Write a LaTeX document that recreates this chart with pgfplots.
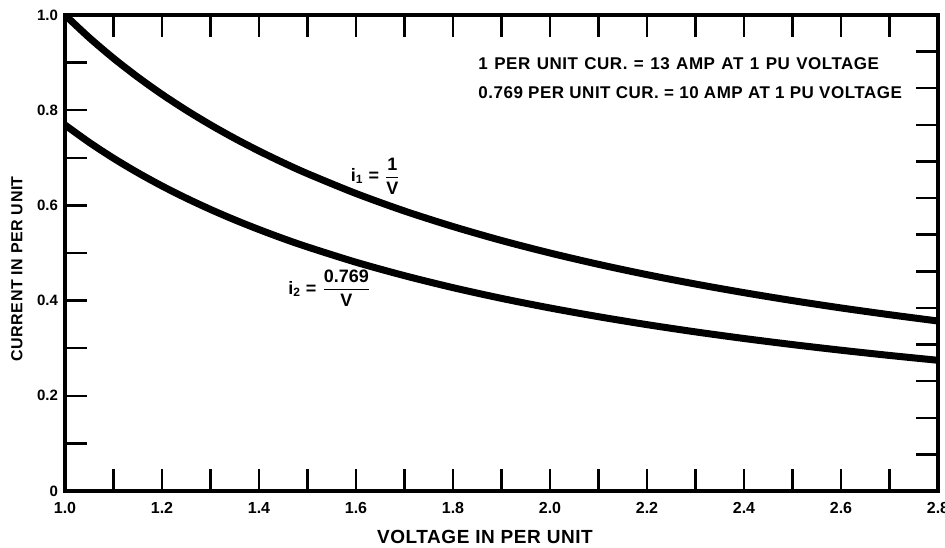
\documentclass[border=0pt]{standalone}
\usepackage{fontspec}
\setmainfont{Liberation Sans}
\newfontfamily\lettering[LetterSpace=3]{Liberation Sans}
\usepackage{pgfplots}
\pgfplotsset{compat=1.18}
\begin{document}
\begin{tikzpicture}
\begin{axis}[
  at={(0,0)}, anchor=south west,
  scale only axis, width=436.5pt, height=238pt,
  xmin=1, xmax=2.8, ymin=0, ymax=1,
  axis line style={line width=2pt},
  xtick={1,1.2,1.4,1.6,1.8,2,2.2,2.4,2.6,2.8},
  xticklabels={1.0,1.2,1.4,1.6,1.8,2.0,2.2,2.4,2.6,2.8},
  minor xtick={1.1,1.3,1.5,1.7,1.9,2.1,2.3,2.5,2.7},
  ytick={0,0.2,0.4,0.6,0.8,1},
  yticklabels={0,0.2,0.4,0.6,0.8,1.0},
  minor ytick={0.1,0.3,0.5,0.7,0.9},
  ytick pos=left, xtick pos=both,
  tick align=inside, major tick length=11pt, minor tick length=11pt,
  every tick/.style={black, line width=1.2pt},
  x tick label style={font=\bfseries\fontsize{8}{9}\selectfont, yshift=-2pt},
  y tick label style={font=\bfseries\fontsize{7.5}{9}\selectfont},
  /pgf/number format/assume math mode=true,
  xlabel={VOLTAGE IN PER UNIT},
  every axis x label/.style={at={(axis description cs:0.481,-0.0966)}, anchor=center, font=\lettering\bfseries\fontsize{9.5}{11}\selectfont},
  ylabel={CURRENT IN PER UNIT},
  every axis y label/.style={at={(axis description cs:-0.055,0.467)}, anchor=center, rotate=90, font=\lettering\bfseries\fontsize{8}{10}\selectfont},
]
\addplot[black, line width=3.5pt, smooth] coordinates {
(1.00,1.0000) (1.05,0.9524) (1.10,0.9091) (1.15,0.8696) (1.20,0.8333)
(1.25,0.8000) (1.30,0.7692) (1.35,0.7407) (1.40,0.7143) (1.45,0.6897)
(1.50,0.6667) (1.60,0.6250) (1.70,0.5882) (1.80,0.5556) (1.90,0.5263)
(2.00,0.5000) (2.10,0.4762) (2.20,0.4545) (2.30,0.4348) (2.40,0.4167)
(2.50,0.4000) (2.60,0.3846) (2.70,0.3704) (2.80,0.3571)};
\addplot[black, line width=3.5pt, smooth] coordinates {
(1.00,0.7690) (1.05,0.7324) (1.10,0.6991) (1.15,0.6687) (1.20,0.6408)
(1.25,0.6152) (1.30,0.5915) (1.35,0.5696) (1.40,0.5493) (1.45,0.5303)
(1.50,0.5127) (1.60,0.4806) (1.70,0.4524) (1.80,0.4272) (1.90,0.4047)
(2.00,0.3845) (2.10,0.3662) (2.20,0.3495) (2.30,0.3343) (2.40,0.3204)
(2.50,0.3076) (2.60,0.2958) (2.70,0.2848) (2.80,0.2746)};
\node[anchor=west, font=\lettering\bfseries\fontsize{8.5}{10}\selectfont, inner sep=0pt] at (axis cs:1.8516,0.897) {\spaceskip=0.38em plus 0.1em 1 PER UNIT CUR. = 13 AMP AT 1 PU VOLTAGE};
\node[anchor=west, font=\lettering\bfseries\fontsize{8.5}{10}\selectfont, inner sep=0pt] at (axis cs:1.8516,0.836) {0.769 PER UNIT CUR. = 10 AMP AT 1 PU VOLTAGE};
\node[font=\bfseries\fontsize{9}{10}\selectfont, inner sep=0pt] at (axis cs:1.641,0.662) {i\textsubscript{1} = $\displaystyle\frac{\hbox{1}}{\hbox{V}}$};
\node[font=\bfseries\fontsize{9}{10}\selectfont, inner sep=0pt] at (axis cs:1.546,0.426) {i\textsubscript{2} = $\displaystyle\frac{\hbox{0.769}}{\hbox{V}}$};
\end{axis}
\begin{axis}[
  at={(0,0)}, anchor=south west,
  scale only axis, width=436.5pt, height=238pt,
  xmin=1, xmax=2.8, ymin=0, ymax=1,
  axis line style={draw=none},
  xtick=\empty,
  ytick={0.0769,0.1538,0.2308,0.3077,0.3846,0.4615,0.5385,0.6154,0.6923,0.7692,0.8462,0.9231},
  yticklabels={},
  ytick pos=right,
  tick align=inside, major tick length=11pt,
  every tick/.style={black, line width=1.2pt},
]
\end{axis}
\pgfresetboundingbox
\useasboundingbox (-32.5pt,-28pt) rectangle (440pt,245.5pt);
\end{tikzpicture}
\end{document}
